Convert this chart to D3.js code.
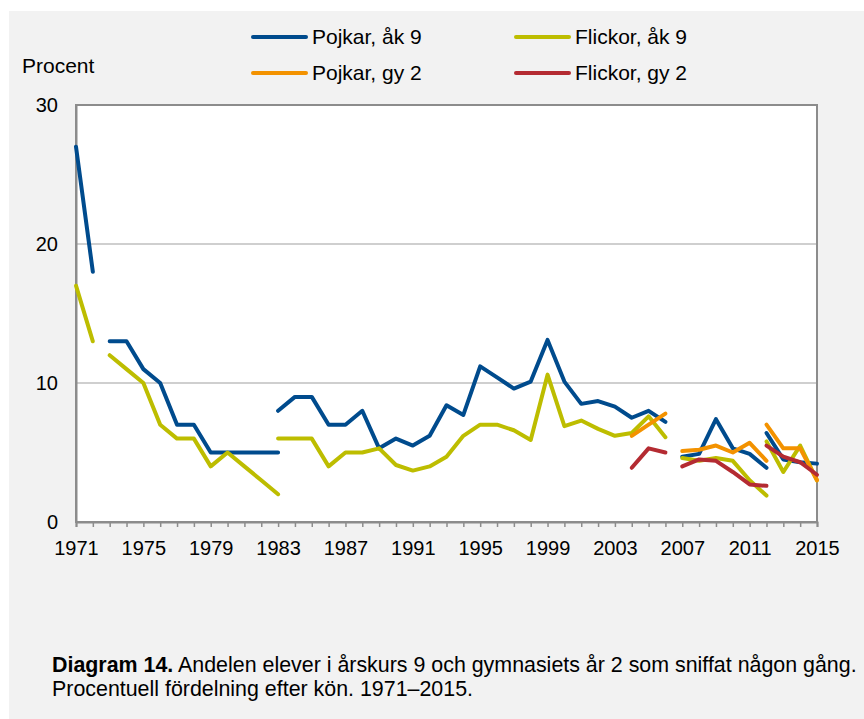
<!DOCTYPE html>
<html lang="sv">
<head>
<meta charset="utf-8">
<title>Diagram 14</title>
<style>
  body { margin:0; background:#fff; }
  .panel { position:absolute; left:9px; top:11px; width:855px; height:708px; background:#f2f2f2; }
  svg { position:absolute; left:0; top:0; }
  text { font-family:"Liberation Sans", Arial, sans-serif; fill:#000; }
  .axis text { font-size:20px; }
  .legend text { font-size:21px; }
  .caption { font-size:21.4px; }
</style>
</head>
<body>
<div class="panel"></div>
<svg class="chart" width="864" height="719"></svg>
<script src="https://cdnjs.cloudflare.com/ajax/libs/d3/7.8.5/d3.min.js"></script>
<script>
// years shown on the x axis, and y axis ticks
var xLabels = [1971, 1975, 1979, 1983, 1987, 1991, 1995, 1999, 2003, 2007, 2011, 2015];
var yTicks = [0, 10, 20, 30];

// each series is a list of unbroken pieces: first year + yearly values
var pojkarAk9 = [
  {from:1971, values:[27, 18]},
  {from:1973, values:[13, 13, 11, 10, 7, 7, 5, 5, 5, 5, 5]},
  {from:1983, values:[8, 9, 9, 7, 7, 8, 5.3, 6, 5.5, 6.2, 8.4, 7.7, 11.2, 10.4, 9.6, 10.1, 13.1, 10.1, 8.5, 8.7, 8.3, 7.5, 8.0, 7.2]},
  {from:2007, values:[4.7, 4.9, 7.4, 5.3, 4.9, 3.9]},
  {from:2012, values:[6.4, 4.5, 4.3, 4.2]}
];
var flickorAk9 = [
  {from:1971, values:[17, 13]},
  {from:1973, values:[12, 11, 10, 7, 6, 6, 4, 5, 4, 3, 2]},
  {from:1983, values:[6, 6, 6, 4, 5, 5, 5.3, 4.1, 3.7, 4.0, 4.7, 6.2, 7.0, 7.0, 6.6, 5.9, 10.6, 6.9, 7.3, 6.7, 6.2, 6.4, 7.6, 6.1]},
  {from:2007, values:[4.6, 4.4, 4.6, 4.4, 3.0, 1.9]},
  {from:2012, values:[5.8, 3.6, 5.5, 3.0]}
];
var pojkarGy2 = [
  {from:2004, values:[6.2, 7.0, 7.8]},
  {from:2007, values:[5.1, 5.2, 5.5, 5.0, 5.7, 4.4]},
  {from:2012, values:[7.0, 5.3, 5.3, 3.0]}
];
var flickorGy2 = [
  {from:2004, values:[3.9, 5.3, 5.0]},
  {from:2007, values:[4.0, 4.5, 4.4, 3.6, 2.7, 2.6]},
  {from:2012, values:[5.5, 4.7, 4.3, 3.4]}
];

var series = [
  {name:"Pojkar, åk 9", color:"#004b8d", data:pojkarAk9},
  {name:"Flickor, åk 9", color:"#bdbd00", data:flickorAk9},
  {name:"Pojkar, gy 2", color:"#f39200", data:pojkarGy2},
  {name:"Flickor, gy 2", color:"#b42b32", data:flickorGy2}
];

var margin = {top:105, left:76},
    width = 741,
    height = 417;

var svg = d3.select('.chart');
var chart = svg.append('g')
  .attr('transform', 'translate(' + margin.left + ',' + margin.top + ')');

var x = d3.scaleLinear().domain([1971, 2015]).range([0, width]);
var y = d3.scaleLinear().domain([0, 30]).range([height, 0]);

// plot background
chart.append('rect')
  .attr('width', width).attr('height', height)
  .attr('fill', '#fff');

// gridlines
chart.selectAll('.grid')
  .data(yTicks.filter(function(d){ return d > 0 && d < 30; }))
  .enter().append('line')
  .attr('x1', 0).attr('x2', width)
  .attr('y1', function(d){ return y(d); })
  .attr('y2', function(d){ return y(d); })
  .attr('stroke', '#bfbfbf').attr('stroke-width', 1.5);

// border
chart.append('rect')
  .attr('width', width).attr('height', height)
  .attr('fill', 'none')
  .attr('stroke', '#8c8c8c').attr('stroke-width', 2);

// x axis: a tick for every year, label every fourth
var allYears = d3.range(1971, 2016);
var xAxis = d3.axisBottom(x)
  .tickValues(allYears)
  .tickFormat(function(d){ return xLabels.indexOf(d) >= 0 ? d : ''; })
  .tickSize(5)
  .tickPadding(14);
var gx = chart.append('g')
  .attr('class', 'axis')
  .attr('transform', 'translate(0,' + height + ')')
  .call(xAxis);
gx.select('.domain').attr('stroke', '#8c8c8c').attr('stroke-width', 2);
gx.selectAll('.tick line').attr('stroke', '#8c8c8c').attr('stroke-width', 1.5);

// y axis labels
var yAxis = d3.axisLeft(y).tickValues(yTicks).tickSize(0).tickPadding(18);
var gy = chart.append('g').attr('class', 'axis').call(yAxis);
gy.select('.domain').attr('stroke', '#8c8c8c').attr('stroke-width', 2);

// lines
var line = d3.line()
  .x(function(d){ return x(d.year); })
  .y(function(d){ return y(d.value); });

series.forEach(function(s){
  s.data.forEach(function(seg){
    var pts = seg.values.map(function(v, i){ return {year:seg.from + i, value:v}; });
    chart.append('path')
      .datum(pts)
      .attr('d', line)
      .attr('fill', 'none')
      .attr('stroke', s.color)
      .attr('stroke-width', 4)
      .attr('stroke-linecap', 'round')
      .attr('stroke-linejoin', 'round');
  });
});

// y title
svg.append('text')
  .attr('x', 22).attr('y', 73)
  .style('font-size', '21px')
  .text('Procent');

// legend
var legendPos = [[253, 37], [516, 37], [253, 73], [516, 73]];
var legend = svg.append('g').attr('class', 'legend');
series.forEach(function(s, i){
  var p = legendPos[i];
  legend.append('line')
    .attr('x1', p[0]).attr('x2', p[0] + 53)
    .attr('y1', p[1]).attr('y2', p[1])
    .attr('stroke', s.color).attr('stroke-width', 4)
    .attr('stroke-linecap', 'round');
  legend.append('text')
    .attr('x', p[0] + 59).attr('y', p[1])
    .attr('dy', '0.35em')
    .text(s.name);
});

// caption
var cap = svg.append('text').attr('class', 'caption').attr('x', 52).attr('y', 672);
cap.append('tspan').style('font-weight', 'bold').text('Diagram 14.');
cap.append('tspan').text(' Andelen elever i årskurs 9 och gymnasiets år 2 som sniffat någon gång.');
svg.append('text').attr('class', 'caption').attr('x', 52).attr('y', 696)
  .text('Procentuell fördelning efter kön. 1971–2015.');
</script>
</body>
</html>
